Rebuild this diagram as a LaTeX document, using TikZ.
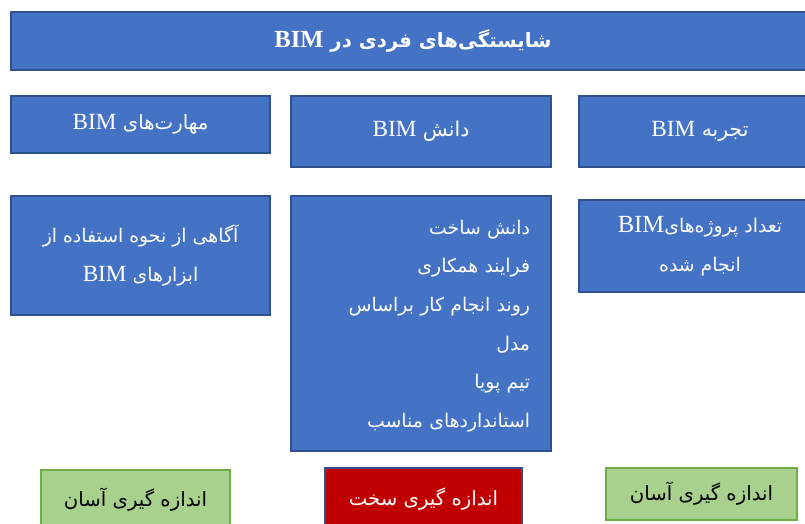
\documentclass[tikz,border=0pt]{standalone}
\usepackage{fontspec}
\setmainfont{Liberation Serif}
\newfontfamily\farsi[Script=Arabic]{DejaVu Sans}
\newfontfamily\latinfont{Liberation Serif}
\TeXXeTstate=1
\definecolor{boxblue}{RGB}{68,114,196}
\definecolor{edgeblue}{RGB}{47,82,143}
\definecolor{easygreen}{RGB}{169,209,142}
\definecolor{edgegreen}{RGB}{112,173,71}
\definecolor{hardred}{RGB}{192,0,0}
\newcommand{\bim}[1][16.5]{\beginL{\fontsize{#1}{20}\selectfont\latinfont BIM}\endL}
\newcommand{\fa}[1]{\beginR#1\endR}
\tikzset{
  bluebox/.style={draw=edgeblue, line width=1.4pt, fill=boxblue, text=white, inner sep=0pt},
  easybox/.style={draw=edgegreen, line width=0.8pt, fill=easygreen, text=black, inner sep=0pt},
  hardbox/.style={draw=edgeblue, line width=1.2pt, fill=hardred, text=white, inner sep=0pt},
  headfont/.style={font=\fontsize{14.5}{20}\selectfont\farsi},
  bodyfont/.style={font=\fontsize{13.4}{27.5}\selectfont\farsi},
}
\begin{document}
\begin{tikzpicture}[x=0.025cm, y=-0.025cm]
    \useasboundingbox[fill=white] (0,0) rectangle (805,524);
    % title
    \node[bluebox, minimum width=20.1cm, minimum height=1.45cm,
          font=\fontsize{14}{20}\selectfont\bfseries\farsi] (title) at (413,41)
        {\fa{شایستگی‌های فردی در \bim[17.5]}};
    % headers
    \node[bluebox, headfont, minimum width=6.475cm, minimum height=1.425cm] (skills) at (140.5,124.5)
        {\fa{{\fontsize{14}{20}\selectfont مهارت‌های} \bim}};
    \node[bluebox, headfont, minimum width=6.5cm, minimum height=1.775cm] (knowledge) at (421,131.5)
        {\fa{دانش \bim}};
    \node[bluebox, headfont, minimum width=6.05cm, minimum height=1.775cm] (experience) at (700,131.5)
        {\fa{تجربه \bim}};
    % descriptions
    \node[bluebox, bodyfont, minimum width=6.475cm, minimum height=2.975cm, align=center] (skillsdesc) at (140.5,255.5)
        {\fa{آگاهی از نحوه استفاده از}\\ \fa{ابزارهای \bim[16.5]}};
    \node[bluebox, minimum width=6.5cm, minimum height=6.375cm] (knowledgedesc) at (421,323.5) {};
    \node[bodyfont, text=white, text width=5.45cm, align=right] (knowledgelist) at (421,326)
        {\fa{دانش ساخت}\\ \fa{فرایند همکاری}\\ \fa{روند انجام کار براساس}\\
         \fa{مدل}\\ \fa{تیم پویا}\\ \fa{استانداردهای مناسب}};
    \node[bluebox, bodyfont, minimum width=6.05cm, minimum height=2.3cm, align=center] (experiencedesc) at (700,246)
        {\fa{تعداد پروژه‌های\bim[17.5]}\\ \fa{انجام شده}};
    % measurement
    \node[easybox, headfont, minimum width=4.725cm, minimum height=1.5cm] (skillsmeasure) at (135.5,500)
        {\fa{\fontsize{14}{20}\selectfont اندازه گیری آسان}};
    \node[hardbox, headfont, minimum width=4.925cm, minimum height=1.55cm] (knowledgemeasure) at (423.5,499)
        {\fa{\fontsize{14}{20}\selectfont اندازه گیری سخت}};
    \node[easybox, headfont, minimum width=4.775cm, minimum height=1.3cm] (experiencemeasure) at (701.5,494)
        {\fa{\fontsize{14}{20}\selectfont اندازه گیری آسان}};
\end{tikzpicture}
\end{document}
